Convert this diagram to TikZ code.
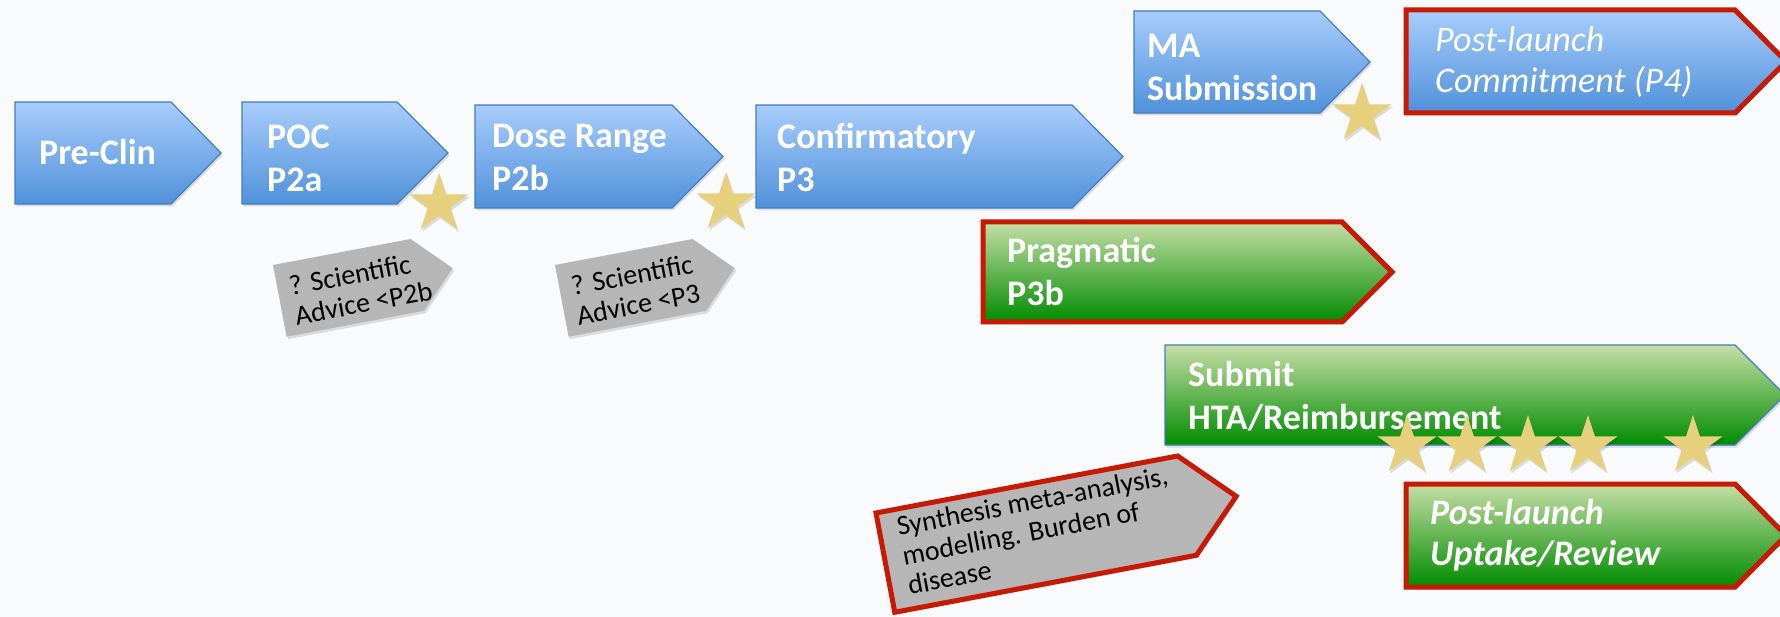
\documentclass[tikz,border=0pt]{standalone}
\usepackage{fontspec}
\setmainfont{Carlito}
\usetikzlibrary{shapes.geometric}
\definecolor{bgc}{RGB}{249,250,251}
\definecolor{bluetop}{RGB}{168,205,251}
\definecolor{bluebot}{RGB}{80,145,218}
\definecolor{blueline}{RGB}{70,125,190}
\definecolor{greentop}{RGB}{198,222,166}
\definecolor{greenbot}{RGB}{0,140,0}
\definecolor{redline}{RGB}{200,25,5}
\definecolor{greyfill}{RGB}{182,182,182}
\definecolor{stargold}{RGB}{230,208,126}
\begin{document}
\begin{tikzpicture}[x=1pt,y=-1pt,dropsh/.style={preaction={fill=black,opacity=0.12,transform canvas={xshift=1.5pt,yshift=-2.5pt}}},bluestage/.style={dropsh,draw=blueline,line width=1.2pt,top color=bluetop,bottom color=bluebot},greenstage/.style={dropsh,draw=blueline,line width=1.2pt,top color=greentop,bottom color=greenbot},redrim/.style={draw=redline,line width=5pt},advice/.style={dropsh,fill=greyfill},lbl/.style={anchor=west,align=left,inner sep=0pt,text=white,font=\fontsize{36}{43}\selectfont\bfseries},note/.style={anchor=west,align=left,inner sep=0pt,text=black,font=\fontsize{28}{30}\selectfont},gold/.style={star,star points=5,star point ratio=2.618,minimum size=62pt,inner sep=0pt,fill=stargold,dropsh}]
        \fill[bgc] (0,0) rectangle (1780,617);
        \useasboundingbox (0,0) rectangle (1780,617);

        \draw[bluestage] (15,102) -- (171,102) -- (221,153) -- (171,204) -- (15,204) -- cycle;
        \node[lbl] (pre) at (39,152) {Pre-Clin};
        \draw[bluestage] (242,102) -- (397,102) -- (448,153) -- (397,204) -- (242,204) -- cycle;
        \node[lbl] (poc) at (267,158) {POC\\P2a};
        \draw[bluestage] (475,105) -- (672,105) -- (723,156.5) -- (672,208) -- (475,208) -- cycle;
        \node[lbl] (dose) at (492,157) {Dose Range\\P2b};
        \draw[bluestage] (756,105) -- (1072,105) -- (1123,156.5) -- (1072,208) -- (756,208) -- cycle;
        \node[lbl] (conf) at (777,157) {Confirmatory\\P3};

        \draw[bluestage] (1134,11) -- (1320,11) -- (1370,62) -- (1320,113) -- (1134,113) -- cycle;
        \node[lbl] (ma) at (1147,67) {MA\\Submission};
        \draw[bluestage,redrim] (1406,10) -- (1735,10) -- (1786,61.5) -- (1735,113) -- (1406,113) -- cycle;
        \node[lbl,font=\fontsize{36}{41}\selectfont\itshape] (pl4) at (1435,62) {Post-launch\\Commitment (P4)};

        \draw[greenstage,redrim] (983,222) -- (1342,222) -- (1392,272) -- (1342,322) -- (983,322) -- cycle;
        \node[lbl] (prag) at (1007,271) {Pragmatic\\P3b};
        \draw[greenstage] (1165,345) -- (1735,345) -- (1785,395) -- (1735,445) -- (1165,445) -- cycle;
        \node[lbl] (hta) at (1188,396) {Submit\\HTA/Reimbursement};
        \draw[greenstage,redrim] (1406,484) -- (1735,484) -- (1786,535.5) -- (1735,587) -- (1406,587) -- cycle;
        \node[lbl,font=\fontsize{36}{41}\selectfont\bfseries\itshape] (upt) at (1430,535) {Post-launch\\Uptake/Review};

        \begin{scope}[shift={(273,265)},rotate=10.7,transform shape]
            \fill[advice] (0,0) -- (140,0) -- (176,36.5) -- (140,73) -- (0,73) -- cycle;
            \node[note] (sa1) at (12,39) {? Scientific\\Advice <P2b};
        \end{scope}
        \begin{scope}[shift={(555,265)},rotate=10.7,transform shape]
            \fill[advice] (0,0) -- (140,0) -- (176,36.5) -- (140,73) -- (0,73) -- cycle;
            \node[note] (sa2) at (12,39) {? Scientific\\Advice <P3};
        \end{scope}
        \begin{scope}[shift={(876,513)},rotate=10.7,transform shape]
            \draw[advice,redrim] (0,0) -- (307,0) -- (357,50.5) -- (307,101) -- (0,101) -- cycle;
            \node[note] (syn) at (18,47) {Synthesis meta-analysis,\\modelling. Burden of\\disease};
        \end{scope}

        \node[gold] (st1) at (439,204) {};
        \node[gold] (st2) at (726,203) {};
        \node[gold] (st3) at (1362,114) {};
        \node[gold] (st4) at (1407,446) {};
        \node[gold] (st5) at (1467,446) {};
        \node[gold] (st6) at (1528,446) {};
        \node[gold] (st7) at (1588,446) {};
        \node[gold] (st8) at (1693,446) {};
    \end{tikzpicture}
\end{document}
